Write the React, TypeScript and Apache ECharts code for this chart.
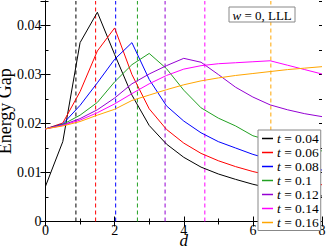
import React, { useEffect, useRef } from "react";
import * as echarts from "echarts";

const D = [0, 0.5, 1, 1.5, 2, 2.5, 3, 3.5, 4, 4.5, 5, 5.5, 6, 6.5, 7, 7.5, 8];
const T004 = [0.0072, 0.0163, 0.0365, 0.0427, 0.0341, 0.0258, 0.0196, 0.0158, 0.0131, 0.0111, 0.0097, 0.0086, 0.0076, 0.0068, 0.0062, 0.0057, 0.0052];
const T006 = [0.0189, 0.0201, 0.0265, 0.0348, 0.0395, 0.0300, 0.0230, 0.0188, 0.0160, 0.0139, 0.0124, 0.0112, 0.0102, 0.0094, 0.0087, 0.0081, 0.0075];
const T008 = [0.0189, 0.0199, 0.0237, 0.0283, 0.0331, 0.0365, 0.0290, 0.0236, 0.0205, 0.0181, 0.0163, 0.0150, 0.0137, 0.0127, 0.0118, 0.0111, 0.0105];
const T010 = [0.0189, 0.0198, 0.0217, 0.0243, 0.0285, 0.0320, 0.0343, 0.0312, 0.0268, 0.0232, 0.0211, 0.0195, 0.0175, 0.0165, 0.0157, 0.0150, 0.0144];
const T012 = [0.0189, 0.0197, 0.0210, 0.0228, 0.0252, 0.0281, 0.0301, 0.0318, 0.0333, 0.0325, 0.0300, 0.0274, 0.0254, 0.0238, 0.0228, 0.0220, 0.0214];
const T014 = [0.0189, 0.0196, 0.0207, 0.0222, 0.0240, 0.0261, 0.0281, 0.0298, 0.0311, 0.0318, 0.0322, 0.0324, 0.0326, 0.0328, 0.0319, 0.0310, 0.0301];
const T016 = [0.0189, 0.0195, 0.0204, 0.0217, 0.0229, 0.0247, 0.0258, 0.0269, 0.0279, 0.0287, 0.0293, 0.0298, 0.0302, 0.0306, 0.0310, 0.0313, 0.0316];

const T_LABELS = ["0.04", "0.06", "0.08", "0.1", "0.12", "0.14", "0.16"];
const SERIES_VALUES = [T004, T006, T008, T010, T012, T014, T016];
const COLORS = ["#000000", "#ff0000", "#0000ff", "#22a022", "#9400d3", "#ff00ff", "#ffa500"];
const PEAK_D = [0.88, 1.45, 2.03, 2.66, 3.46, 4.61, 6.52];
const Y_MIN = 0;
const Y_MAX = 0.045;

const FONT = "Liberation Serif";

export default function App() {
  const ref = useRef<HTMLDivElement>(null);
  useEffect(() => {
    if (!ref.current) return;
    const chart = echarts.init(ref.current, undefined, { renderer: "svg" });
    const xBase = {
      type: "value",
      min: 0,
      max: 8,
      interval: 2,
      axisLine: { show: true, lineStyle: { color: "#000", width: 1 } },
      axisTick: { show: true, inside: true, length: 5, lineStyle: { color: "#000" } },
      minorTick: { show: true, splitNumber: 2, length: 3, lineStyle: { color: "#000" } },
      splitLine: { show: false },
      minorSplitLine: { show: false },
    };
    const yMajor = {
      type: "value",
      min: Y_MIN,
      max: Y_MAX,
      interval: 0.01,
      axisLine: { show: true, lineStyle: { color: "#000", width: 1 } },
      axisTick: { show: true, inside: true, length: 5, lineStyle: { color: "#000" } },
      splitLine: { show: false },
    };
    const yMinor = {
      type: "value",
      min: Y_MIN,
      max: Y_MAX,
      interval: 0.005,
      axisLine: { show: false },
      axisLabel: { show: false },
      axisTick: { show: true, inside: true, length: 3, lineStyle: { color: "#000" } },
      splitLine: { show: false },
    };
    const dashSeries: any[] = PEAK_D.map((d, i) => ({
      name: "peak" + i,
      type: "line",
      data: [[d, Y_MIN], [d, Y_MAX]],
      symbol: "none",
      silent: true,
      lineStyle: { color: COLORS[i], width: 1, type: [4, 3] },
      itemStyle: { color: COLORS[i] },
      z: 1,
    }));
    const curveSeries: any[] = SERIES_VALUES.map((vals, i) => ({
      name: T_LABELS[i],
      type: "line",
      data: D.map((d, j) => [d, vals[j]]),
      symbol: "none",
      lineStyle: { color: COLORS[i], width: 1 },
      itemStyle: { color: COLORS[i] },
      z: 3,
    }));
    chart.setOption({
      animation: false,
      backgroundColor: "#fff",
      grid: { left: 45.5, right: 5, top: 1, bottom: 25.5, containLabel: false, outerBoundsMode: "none" },
      title: {
        text: "{i|w} = 0, LLL",
        left: 228.5,
        top: 7,
        padding: [1.5, 3, 0.5, 4],
        borderColor: "#888",
        borderWidth: 1,
        backgroundColor: "#fff",
        textStyle: {
          fontFamily: FONT,
          fontSize: 13,
          fontWeight: "normal",
          color: "#000",
          rich: { i: { fontFamily: FONT, fontSize: 13, fontStyle: "italic", color: "#000" } },
        },
      },
      legend: {
        orient: "vertical",
        left: 258,
        top: 130,
        padding: [1.5, 2, 1, 4],
        itemGap: 0,
        itemWidth: 11,
        itemHeight: 1.5,
        icon: "rect",
        backgroundColor: "#fff",
        borderColor: "#888",
        borderWidth: 1,
        borderRadius: 0,
        data: T_LABELS,
        formatter: (name: string) => `{i|t} = ${name}`,
        textStyle: {
          fontFamily: FONT,
          fontSize: 13.5,
          color: "#000",
          lineHeight: 11.73,
          padding: [0, 0, 0, -1],
          rich: { i: { fontFamily: FONT, fontSize: 13.5, fontStyle: "italic", lineHeight: 11.73, color: "#000" } },
        },
      },
      xAxis: [
        {
          ...xBase,
          position: "bottom",
          name: "d",
          nameLocation: "middle",
          nameGap: 10.5,
          nameMoveOverlap: false,
          nameTextStyle: { fontFamily: FONT, fontSize: 17, fontStyle: "italic", color: "#000" },
          axisLabel: { fontFamily: FONT, fontSize: 14, color: "#000", margin: 2 },
        },
        { ...xBase, position: "top", axisLabel: { show: false } },
      ],
      yAxis: [
        {
          ...yMajor,
          position: "left",
          name: "Energy Gap",
          nameLocation: "middle",
          nameGap: 32,
          nameMoveOverlap: false,
          nameTextStyle: { fontFamily: FONT, fontSize: 18, color: "#000" },
          axisLabel: {
            fontFamily: FONT,
            fontSize: 14,
            color: "#000",
            margin: 4,
            showMaxLabel: false,
            formatter: (v: number) => {
              if (v === 0) return "0";
              const k = Math.round(v * 100);
              if (Math.abs(v * 100 - k) > 1e-6 || k > 4) return "";
              return (k / 100).toFixed(2);
            },
          },
        },
        { ...yMajor, position: "right", axisLabel: { show: false } },
        { ...yMinor, position: "left" },
        { ...yMinor, position: "right" },
      ],
      series: [...dashSeries, ...curveSeries],
    });
    return () => chart.dispose();
  }, []);
  return <div ref={ref} style={{ width: 327, height: 247, position: "absolute", left: 0, top: 0 }} />;
}
